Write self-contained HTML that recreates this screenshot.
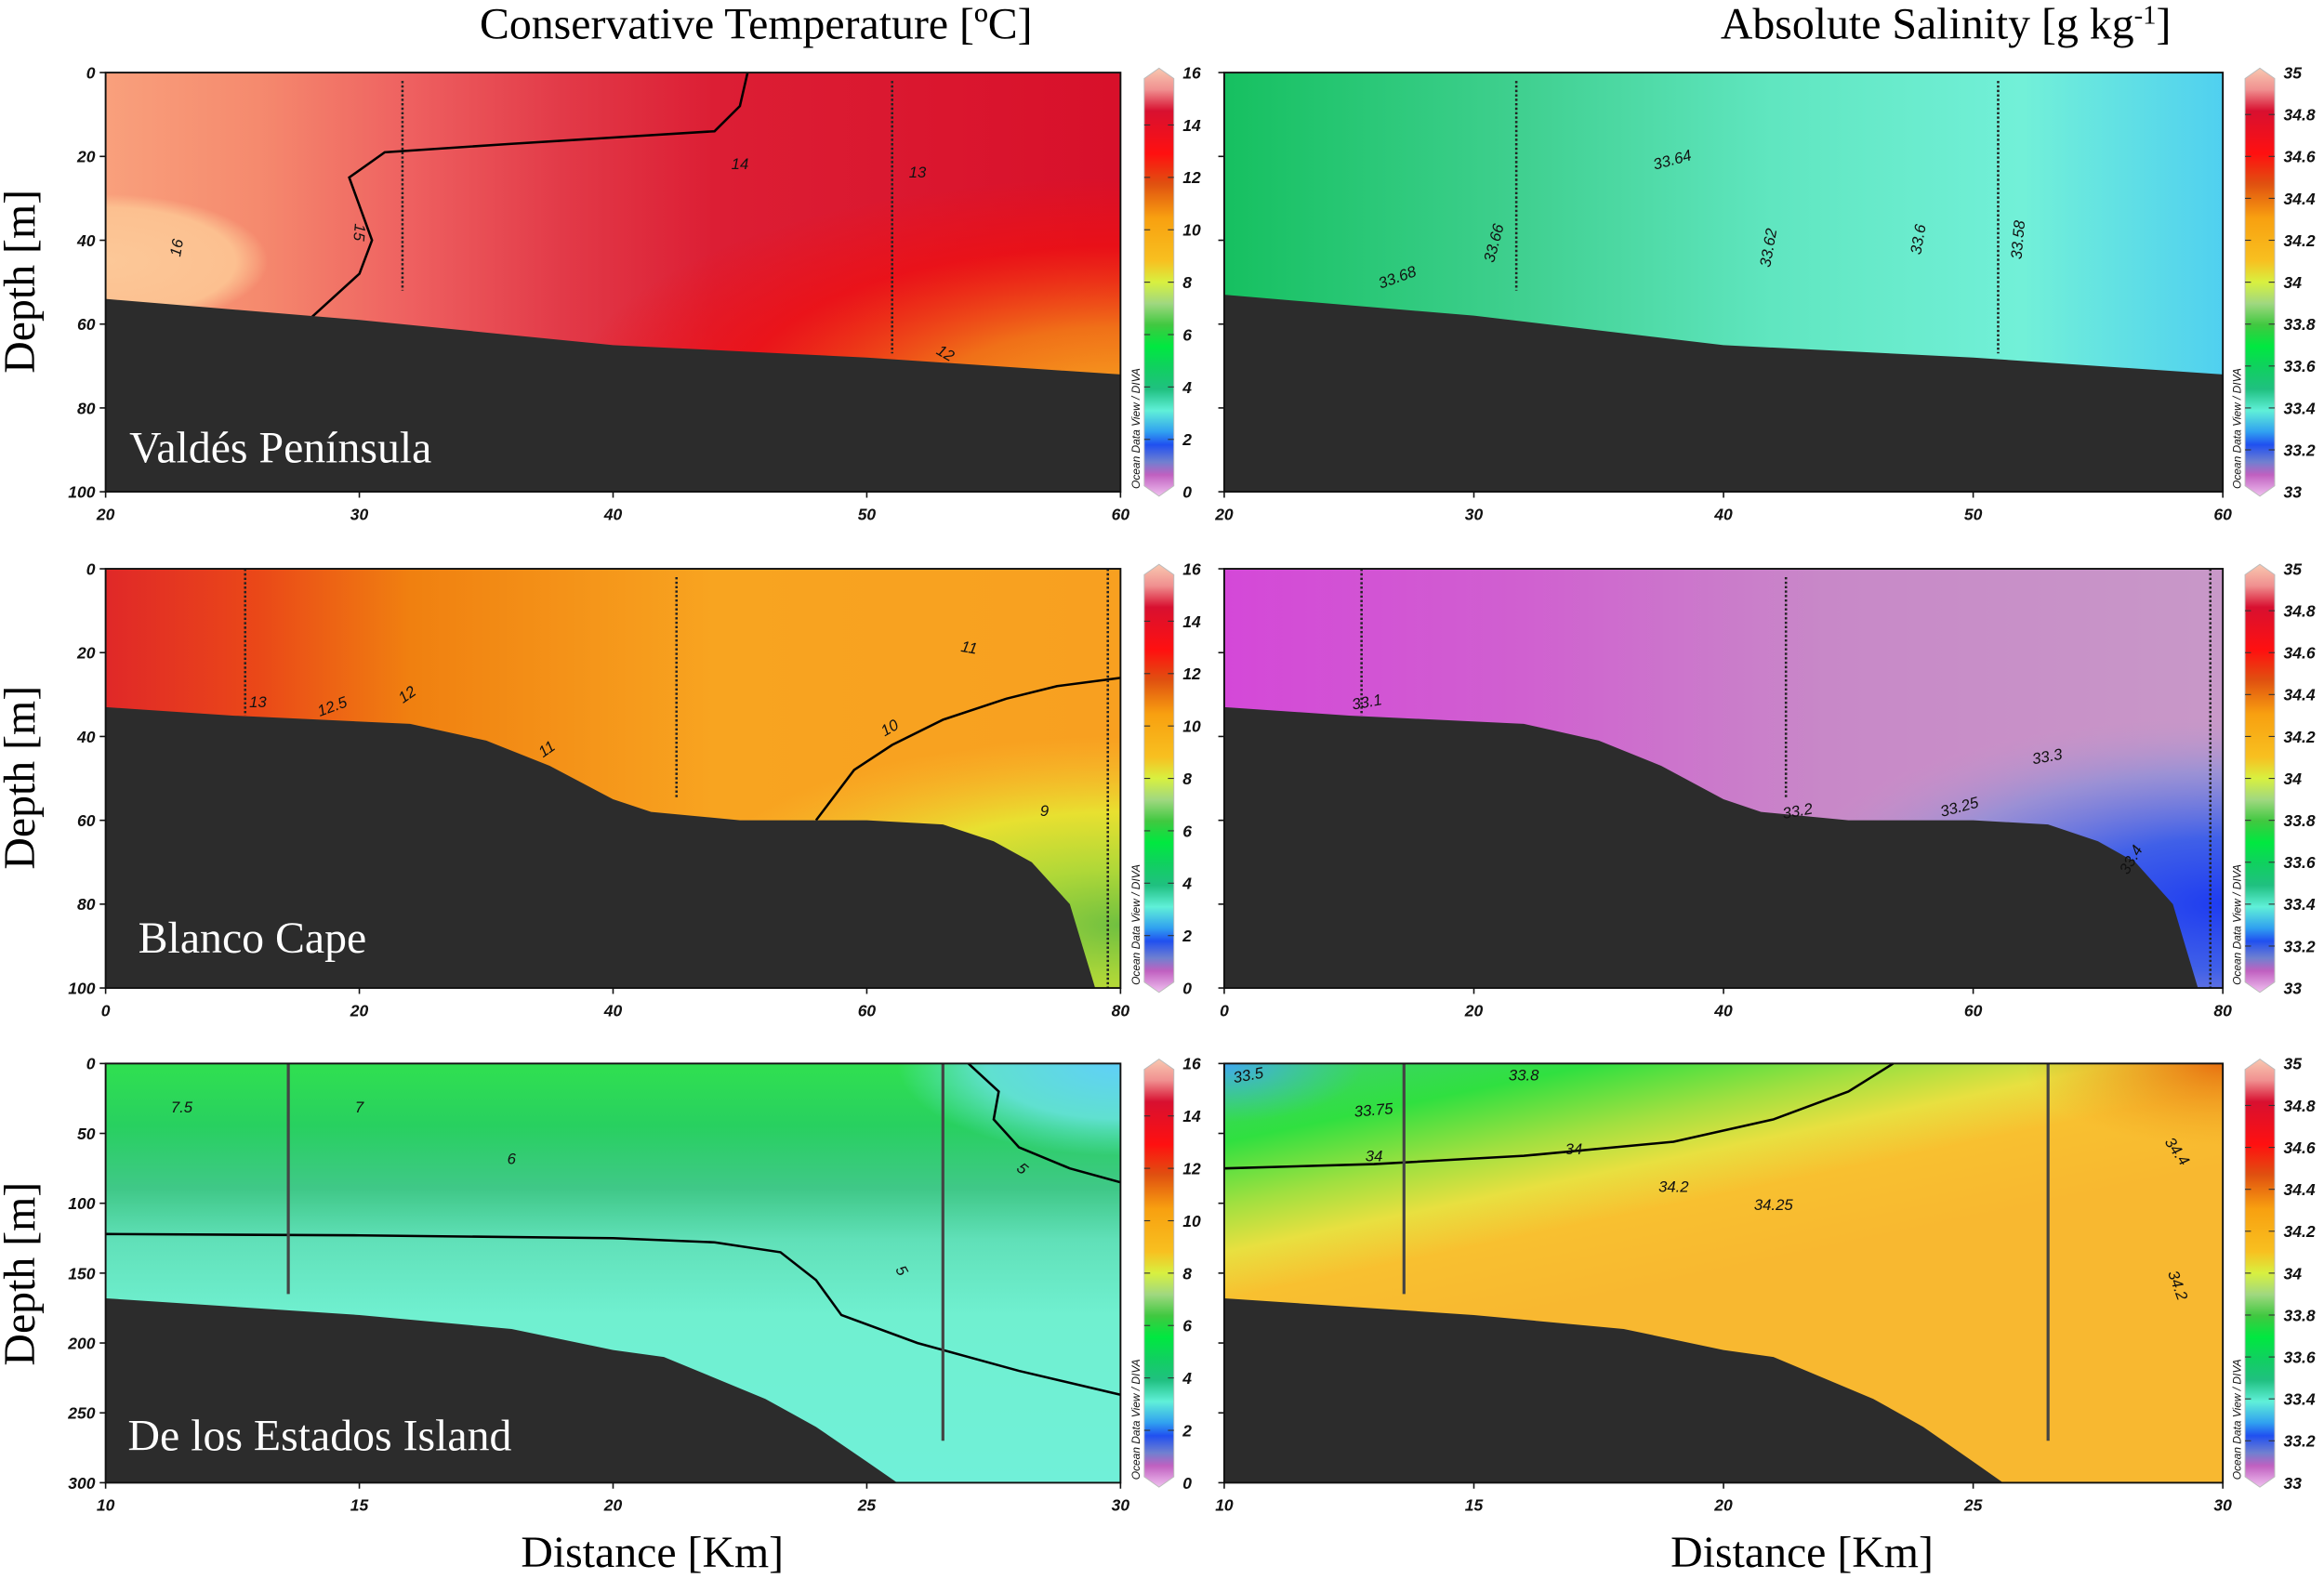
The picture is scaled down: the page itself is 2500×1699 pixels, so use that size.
<!DOCTYPE html>
<html><head><meta charset="utf-8"><style>
html,body{margin:0;padding:0;background:#fff;}
svg{display:block;}
text{font-family:"Liberation Serif",serif;}
.tk{font-family:"Liberation Sans",sans-serif;font-weight:bold;font-style:italic;font-size:11px;fill:#111;}
.cl{font-family:"Liberation Sans",sans-serif;font-style:italic;font-size:10.5px;fill:#111;}
.cb{font-family:"Liberation Sans",sans-serif;font-weight:bold;font-style:italic;font-size:11px;fill:#111;}
.od{font-family:"Liberation Sans",sans-serif;font-style:italic;font-size:7.5px;fill:#111;}
</style></head><body>
<svg id="fig" width="2500" height="1699" viewBox="0 0 1568 1066" xmlns="http://www.w3.org/2000/svg">
<defs>
<linearGradient id="cbg" x1="0" y1="0" x2="0" y2="1">
<stop offset="0" stop-color="#f8c8b0"/><stop offset=".05" stop-color="#f09090"/><stop offset=".1" stop-color="#d81030"/><stop offset=".2" stop-color="#ff1010"/><stop offset=".27" stop-color="#e05010"/><stop offset=".35" stop-color="#f8a010"/><stop offset=".45" stop-color="#f8c020"/><stop offset=".5" stop-color="#d8f040"/><stop offset=".55" stop-color="#a0d880"/><stop offset=".6" stop-color="#40c840"/><stop offset=".65" stop-color="#00e840"/><stop offset=".7" stop-color="#10d060"/><stop offset=".75" stop-color="#20c080"/><stop offset=".8" stop-color="#60f0d8"/><stop offset=".85" stop-color="#30a0f0"/><stop offset=".88" stop-color="#2050f0"/><stop offset=".92" stop-color="#7080d0"/><stop offset=".95" stop-color="#c060c0"/><stop offset="1" stop-color="#f0c0f0"/>
</linearGradient>
<linearGradient id="g1a" x1="0" y1="0" x2="1" y2="0"><stop offset="0" stop-color="#f9a07c"/><stop offset=".15" stop-color="#f58a6e"/><stop offset=".3" stop-color="#ee6060"/><stop offset=".45" stop-color="#e23a48"/><stop offset=".6" stop-color="#dc1e34"/><stop offset="1" stop-color="#d8102a"/></linearGradient>
<radialGradient id="g1b" cx="1" cy=".8" r=".55"><stop offset="0" stop-color="#f8a820"/><stop offset=".35" stop-color="#f07018"/><stop offset=".7" stop-color="#f01010" stop-opacity=".7"/><stop offset="1" stop-color="#f01010" stop-opacity="0"/></radialGradient>
<radialGradient id="g1c" cx="0" cy=".45" r=".16"><stop offset="0" stop-color="#fcc898"/><stop offset=".8" stop-color="#fcc090"/><stop offset="1" stop-color="#fcc090" stop-opacity="0"/></radialGradient>
<linearGradient id="g2a" x1="0" y1="0" x2="1" y2="0"><stop offset="0" stop-color="#16c060"/><stop offset=".3" stop-color="#40d090"/><stop offset=".55" stop-color="#60e6c0"/><stop offset=".8" stop-color="#72f0d8"/><stop offset="1" stop-color="#50d0f0"/></linearGradient>
<linearGradient id="g3a" x1="0" y1="0" x2="1" y2="0"><stop offset="0" stop-color="#e02828"/><stop offset=".15" stop-color="#ea4818"/><stop offset=".3" stop-color="#f08010"/><stop offset=".6" stop-color="#f8a420"/><stop offset="1" stop-color="#f8a020"/></linearGradient>
<radialGradient id="g3b" cx="1" cy=".85" r=".45"><stop offset="0" stop-color="#70c040"/><stop offset=".3" stop-color="#b0d838"/><stop offset=".6" stop-color="#e8e030"/><stop offset="1" stop-color="#f8c030" stop-opacity="0"/></radialGradient>
<linearGradient id="g4a" x1="0" y1="0" x2="1" y2="0"><stop offset="0" stop-color="#d448d8"/><stop offset=".3" stop-color="#d060d0"/><stop offset=".6" stop-color="#c888c8"/><stop offset="1" stop-color="#c898c8"/></linearGradient>
<radialGradient id="g4b" cx="1" cy=".8" r=".45"><stop offset="0" stop-color="#1e3cf0"/><stop offset=".35" stop-color="#4060e8"/><stop offset=".7" stop-color="#9090d8" stop-opacity=".8"/><stop offset="1" stop-color="#c098c8" stop-opacity="0"/></radialGradient>
<linearGradient id="g5a" x1="0" y1="0" x2="0" y2="1"><stop offset="0" stop-color="#30e050"/><stop offset=".15" stop-color="#28d060"/><stop offset=".3" stop-color="#40c888"/><stop offset=".42" stop-color="#60e0b8"/><stop offset=".6" stop-color="#70f0d0"/><stop offset="1" stop-color="#70f0d8"/></linearGradient>
<radialGradient id="g5b" cx="1" cy="0" r=".22"><stop offset="0" stop-color="#60d0f8"/><stop offset=".6" stop-color="#60e0d0"/><stop offset="1" stop-color="#60e0d0" stop-opacity="0"/></radialGradient>
<linearGradient id="g6a" x1="0" y1="0" x2=".3" y2=".6"><stop offset="0" stop-color="#40d070"/><stop offset=".25" stop-color="#30e040"/><stop offset=".45" stop-color="#a0e040"/><stop offset=".6" stop-color="#e8e040"/><stop offset=".75" stop-color="#f8c030"/><stop offset="1" stop-color="#f8b830"/></linearGradient>
<radialGradient id="g6b" cx="0" cy="0" r=".14"><stop offset="0" stop-color="#40a8f0"/><stop offset="1" stop-color="#40c0c0" stop-opacity="0"/></radialGradient>
<radialGradient id="g6c" cx="1" cy="0" r=".2"><stop offset="0" stop-color="#e87010"/><stop offset="1" stop-color="#f0a020" stop-opacity="0"/></radialGradient>
</defs>
<g id="root"></g>
</svg>
<script>
const NS="http://www.w3.org/2000/svg";
// ---- data arrays ----
const xTicks1=[20,30,40,50,60], yTicks1=[0,20,40,60,80,100];
const xTicks2=[0,20,40,60,80], yTicks2=[0,20,40,60,80,100];
const xTicks3=[10,15,20,25,30], yTicks3=[0,50,100,150,200,250,300];
const cbTempLabels=[0,2,4,6,8,10,12,14,16];
const cbSalLabels=["33","33.2","33.4","33.6","33.8","34","34.2","34.4","34.6","34.8","35"];
const bathyX1=[20,30,40,50,60], bathyD1=[54,59,65,68,72];
const bathyX1r=[20,30,40,50,60], bathyD1r=[53,58,65,68,72];
const bathyX2=[0,10,24,30,35,40,43,50,60,66,70,73,76,77,78], bathyD2=[33,35,37,41,47,55,58,60,60,61,65,70,80,90,100];
const bathyX3=[10,15,18,20,21,23,24,25,25.6], bathyD3=[168,180,190,205,210,240,260,285,300];
const stX1=[31.7,51], stTop1=[2,2], stBot1=[52,67];
const stX2=[11,45,79], stTop2=[0,2,0], stBot2=[35,55,100];
const stX3=[13.6,26.5], stTop3=[0,0], stBot3=[165,270];
const c1x=[28,30,30.5,29.6,31,36,44,45,45.3], c1d=[59,48,40,25,19,17,14,8,0];
const c3x=[56,59,62,66,71,75,80], c3d=[60,48,42,36,31,28,26];
const c5ax=[10,15,20,22,23.3,24,24.5,26,28,30], c5ad=[122,123,125,128,135,155,180,200,220,237];
const c5bx=[27,27.6,27.5,28,29,30], c5bd=[0,20,40,60,75,85];
const c6x=[10,13,16,19,21,22.5,23.4], c6d=[75,72,66,56,40,20,0];
const lab1=[[23,42,"16",-80],[29.8,38,"15",95],[45,23,"14",0],[52,25,"13",0],[53,68,"12",30]];
const lab2=[[27,50,"33.68",-20],[31,41,"33.66",-75],[38,22,"33.64",-15],[42,42,"33.62",-80],[48,40,"33.6",-80],[52,40,"33.58",-85]];
const lab3=[[12,33,"13",0],[18,34,"12.5",-20],[24,31,"12",-35],[35,44,"11",-35],[68,20,"11",10],[62,39,"10",-30],[74,59,"9",0]];
const lab4=[[11.5,33,"33.1",-10],[46,59,"33.2",-10],[59,58,"33.25",-15],[66,46,"33.3",-10],[73,70,"33.4",-60]];
const lab5=[[11.5,35,"7.5",0],[15,35,"7",0],[18,72,"6",0],[28,78,"5",40],[25.6,150,"5",60]];
const lab6=[[10.5,12,"33.5",-10],[13,37,"33.75",-5],[16,12,"33.8",0],[13,70,"34",0],[17,65,"34",0],[19,92,"34.2",0],[21,105,"34.25",0],[29,65,"34.4",55],[29,160,"34.2",70]];

const root=document.getElementById('root');
function el(tag,attrs,parent){const e=document.createElementNS(NS,tag);for(const k in attrs)e.setAttribute(k,attrs[k]);(parent||root).appendChild(e);return e;}

const panels=[
 {name:"temp-valdes",px:71,py:49,w:685,h:283,x0:20,x1:60,d1:100,xt:xTicks1,yt:yTicks1,fills:["g1a","g1b","g1c"],bx:bathyX1,bd:bathyD1,sx:stX1,st:stTop1,sb:stBot1,dash:true,cx:[c1x],cd:[c1d],labs:lab1},
 {name:"sal-valdes",px:826,py:49,w:674,h:283,x0:20,x1:60,d1:100,xt:xTicks1,yt:yTicks1,fills:["g2a"],bx:bathyX1r,bd:bathyD1r,sx:stX1,st:stTop1,sb:stBot1,dash:true,cx:[],cd:[],labs:lab2},
 {name:"temp-blanco",px:71,py:384,w:685,h:283,x0:0,x1:80,d1:100,xt:xTicks2,yt:yTicks2,fills:["g3a","g3b"],bx:bathyX2,bd:bathyD2,sx:stX2,st:stTop2,sb:stBot2,dash:true,cx:[c3x],cd:[c3d],labs:lab3},
 {name:"sal-blanco",px:826,py:384,w:674,h:283,x0:0,x1:80,d1:100,xt:xTicks2,yt:yTicks2,fills:["g4a","g4b"],bx:bathyX2,bd:bathyD2,sx:stX2,st:stTop2,sb:stBot2,dash:true,cx:[],cd:[],labs:lab4},
 {name:"temp-estados",px:71,py:718,w:685,h:283,x0:10,x1:30,d1:300,xt:xTicks3,yt:yTicks3,fills:["g5a","g5b"],bx:bathyX3,bd:bathyD3,sx:stX3,st:stTop3,sb:stBot3,dash:false,cx:[c5ax,c5bx],cd:[c5ad,c5bd],labs:lab5},
 {name:"sal-estados",px:826,py:718,w:674,h:283,x0:10,x1:30,d1:300,xt:xTicks3,yt:yTicks3,fills:["g6a","g6b","g6c"],bx:bathyX3,bd:bathyD3,sx:stX3,st:stTop3,sb:stBot3,dash:false,cx:[c6x],cd:[c6d],labs:lab6}
];

panels.forEach((p,i)=>{
 const X=v=>p.px+(v-p.x0)/(p.x1-p.x0)*p.w;
 const Y=d=>p.py+d/p.d1*p.h;
 const g=el('g',{});
 
 
 p.fills.forEach(f=>{const r=el('rect',{x:p.px,y:p.py,width:p.w,height:p.h,fill:'url(#'+f+')'},g);
  
  });
 p.cx.forEach((cx,k)=>{const cd=p.cd[k];let s='';cx.forEach((x,j)=>{s+=(j?'L':'M')+X(x).toFixed(1)+','+Y(cd[j]).toFixed(1);});
  const c=el('path',{d:s,fill:'none',stroke:'#000','stroke-width':1.6},g);
  
  });
 let bs='M'+p.px+','+(p.py+p.h)+' L'+p.px+','+Y(p.bd[0]).toFixed(1);
 p.bx.forEach((x,j)=>{bs+=' L'+X(x).toFixed(1)+','+Y(p.bd[j]).toFixed(1);});
 if(p.bd[p.bd.length-1]<p.d1) bs+=' L'+(p.px+p.w)+','+Y(p.bd[p.bd.length-1]).toFixed(1)+' L'+(p.px+p.w)+','+(p.py+p.h);
 bs+=' Z';
 const b=el('path',{d:bs,fill:'#2c2c2c'},g);
 
 
 p.sx.forEach((x,j)=>{const l=el('line',{x1:X(x),x2:X(x),y1:Y(p.st[j]),y2:Y(p.sb[j]),stroke:p.dash?'#222':'#444','stroke-width':p.dash?1.6:2,'stroke-dasharray':p.dash?'1.5,1.5':'none'},g);
  
  });
 p.labs.forEach(a=>{const t=el('text',{x:X(a[0]),y:Y(a[1]),class:'cl','text-anchor':'middle',transform:'rotate('+a[3]+' '+X(a[0])+' '+Y(a[1])+')'},g);t.textContent=a[2];
  
  });
 const fr=el('rect',{x:p.px,y:p.py,width:p.w,height:p.h,fill:'none',stroke:'#111','stroke-width':1.2},g);
 
 
 p.xt.forEach(v=>{el('line',{x1:X(v),x2:X(v),y1:p.py+p.h,y2:p.py+p.h+4,stroke:'#111'},g);
  const t=el('text',{x:X(v),y:p.py+p.h+19,class:'tk','text-anchor':'middle'},g);t.textContent=v;
  
  });
 p.yt.forEach(v=>{el('line',{x1:p.px-4,x2:p.px,y1:Y(v),y2:Y(v),stroke:'#111'},g);
  if(i%2===0){const t=el('text',{x:p.px-7,y:Y(v)+4,class:'tk','text-anchor':'end'},g);t.textContent=v;
  
  }});
 const cbx=p.px+p.w+(i%2?15:16), cbw=20;
 const cg=el('g',{},g);
 
 
 el('path',{d:`M${cbx},${p.py+4} L${cbx+cbw/2},${p.py-3} L${cbx+cbw},${p.py+4} L${cbx+cbw},${p.py+p.h-4} L${cbx+cbw/2},${p.py+p.h+3} L${cbx},${p.py+p.h-4} Z`,fill:'url(#cbg)',stroke:'#bbb','stroke-width':.6},cg);
 const labs=i%2?cbSalLabels:cbTempLabels;
 labs.forEach((v,k)=>{const yy=p.py+p.h-k/(labs.length-1)*p.h;
  if(k>0&&k<labs.length-1){el('line',{x1:cbx,x2:cbx+4,y1:yy,y2:yy,stroke:'#333','stroke-width':.7},cg);el('line',{x1:cbx+cbw-4,x2:cbx+cbw,y1:yy,y2:yy,stroke:'#333','stroke-width':.7},cg);}
  const t=el('text',{x:cbx+cbw+6,y:yy+4,class:'cb'},cg);t.textContent=v;
  
  });
 const od=el('text',{x:0,y:0,class:'od',transform:`translate(${cbx-3},${p.py+p.h-2}) rotate(-90)`},cg);
 od.textContent='Ocean Data View / DIVA';
 
 
});

function txt(x,y,s,attrs,name){const t=el('text',Object.assign({x:x,y:y},attrs));t.textContent=s;
 
 return t;}
txt(510,26,'Conservative Temperature [ºC]',{'font-size':30,'text-anchor':'middle'},'temperature-title');
const st=txt(1313,26,'Absolute Salinity [g kg',{'font-size':30,'text-anchor':'middle'},'salinity-title');
const ts=document.createElementNS(NS,'tspan');ts.setAttribute('baseline-shift','super');ts.setAttribute('font-size','18');ts.textContent='-1';st.appendChild(ts);
const ts2=document.createElementNS(NS,'tspan');ts2.textContent=']';st.appendChild(ts2);
[190,525,860].forEach((cy,k)=>{txt(0,0,'Depth [m]',{'font-size':30,'text-anchor':'middle',transform:`translate(23,${cy}) rotate(-90)`},'y-axis-title');});
txt(87,312,'Valdés Península',{'font-size':30,fill:'#fff'},'region-label-valdes');
txt(93,643,'Blanco Cape',{'font-size':30,fill:'#fff'},'region-label-blanco');
txt(86,979,'De los Estados Island',{'font-size':30,fill:'#fff'},'region-label-estados');
txt(440,1058,'Distance [Km]',{'font-size':30,'text-anchor':'middle'},'x-axis-title-left');
txt(1216,1058,'Distance [Km]',{'font-size':30,'text-anchor':'middle'},'x-axis-title-right');
</script>
</body></html>
